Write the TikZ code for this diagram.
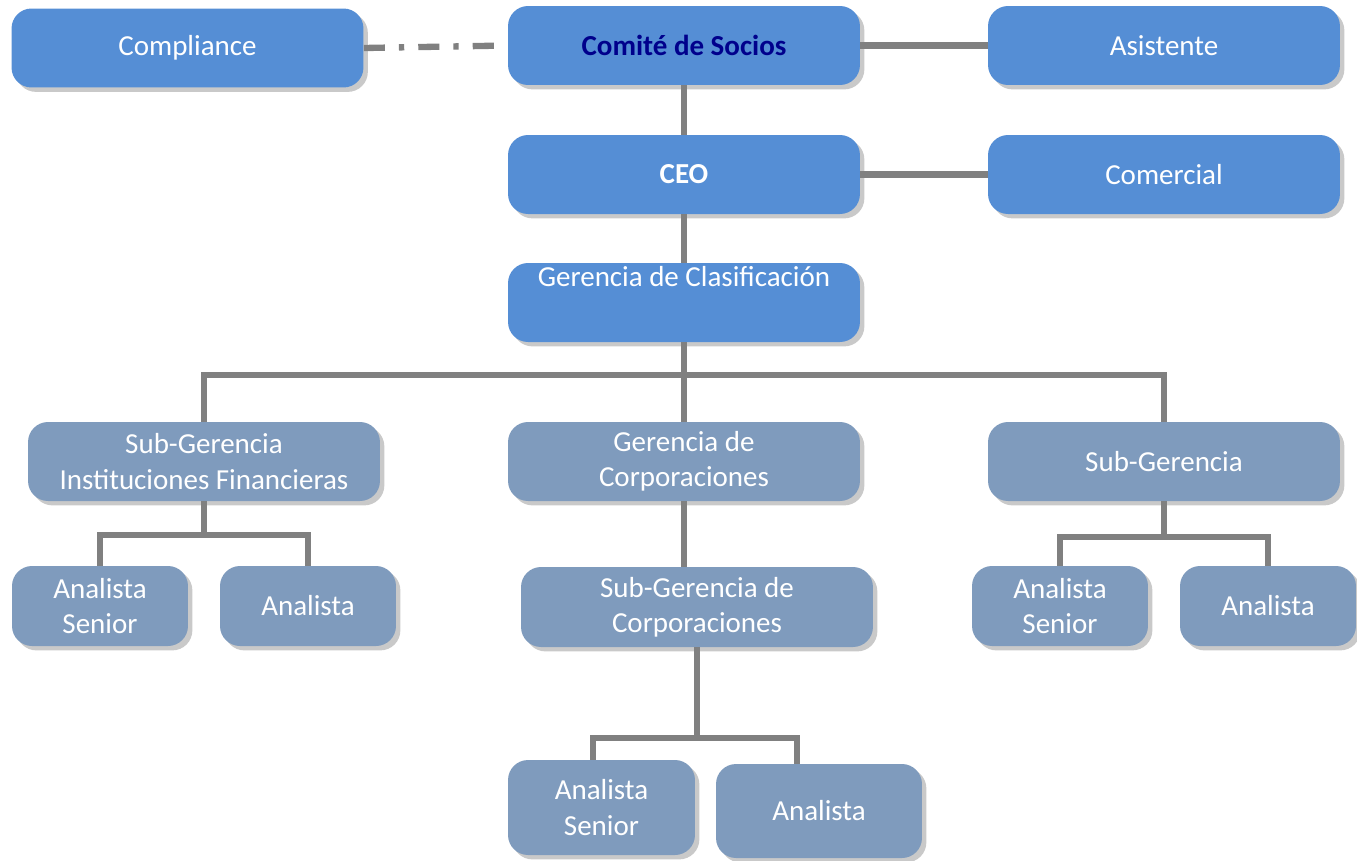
\documentclass[tikz,border=0pt]{standalone}
\usepackage{fontspec}
\setmainfont{Carlito}
\usepackage{tikz}
\usepackage{xcolor}
\usetikzlibrary{shapes,arrows,positioning,shadows}
\definecolor{boss}{RGB}{85, 142, 213}
\definecolor{staff}{RGB}{127, 155, 189}
\definecolor{linkgray}{RGB}{128, 128, 128}
\definecolor{navy}{RGB}{0, 0, 140}
\tikzstyle{unit} = [
    rectangle,
    rounded corners=4mm,
    minimum width=7.04cm,
    minimum height=1.58cm,
    text centered,
    align=center,
    draw=none,
    fill=boss,
    text=white,
    drop shadow={shadow xshift=2.5pt, shadow yshift=-2.5pt, opacity=.3, fill=black!70},
    font=\fontsize{16.5}{20}\selectfont
]
\tikzstyle{subunit} = [
    unit,
    fill=staff
]
\tikzstyle{analyst} = [
    subunit,
    minimum width=3.52cm,
    minimum height=1.6cm
]
\tikzstyle{link} = [
    line width=3.6pt,
    draw=linkgray
]

\begin{document}
\begin{tikzpicture}[x=0.02cm, y=-0.02cm]
    \useasboundingbox (0,0) rectangle (1357,860);

    % top levels
    \node[unit] (compliance) at (187.5,48) {Compliance};
    \node[unit, text=navy, font=\fontsize{16.5}{20}\selectfont\bfseries] (comite) at (684,45.5) {Comité de Socios};
    \node[unit] (asistente) at (1164,45.5) {Asistente};
    \node[unit, font=\fontsize{16.5}{20}\selectfont\bfseries] (ceo) at (684,174.5) {CEO};
    \node[unit] (comercial) at (1164,174.5) {Comercial};
    \node[unit, inner ysep=0pt] (gclas) at (684,302.5) {Gerencia de Clasificación\\[10pt]\mbox{}};

    % gerencias
    \node[subunit] (sgif) at (204,461.5) {Sub-Gerencia\\Instituciones Financieras};
    \node[subunit] (gcorp) at (684,461.5) {Gerencia de\\Corporaciones};
    \node[subunit] (sgder) at (1164,461.5) {Sub-Gerencia};
    \node[subunit, minimum height=1.6cm] (sgcorp) at (697,607) {Sub-Gerencia de\\Corporaciones};

    % analistas
    \node[analyst] (asL) at (100,606) {Analista\\Senior};
    \node[analyst] (anL) at (308,606) {Analista};
    \node[analyst] (asR) at (1060,606) {Analista\\Senior};
    \node[analyst] (anR) at (1268,606) {Analista};
    \node[analyst, minimum width=3.74cm, minimum height=1.9cm] (asB) at (601.5,807.5) {Analista\\Senior};
    \node[analyst, minimum width=4.12cm, minimum height=1.88cm] (anB) at (819,811) {Analista};

    % buses
    \coordinate (busA) at (684,375);
    \coordinate (busB) at (204,535);
    \coordinate (busC) at (1164,537);
    \coordinate (busD) at (697,738);

    % connectors
    \draw[link, dash pattern=on 12pt off 8pt on 3pt off 8pt] (compliance.east) -- (comite.west);
    \draw[link] (comite.east) -- (asistente.west);
    \draw[link] (comite.south) -- (ceo.north);
    \draw[link] (ceo.east) -- (comercial.west);
    \draw[link] (ceo.south) -- (gclas.north);
    \draw[link] (gclas.south) -- (busA);
    \draw[link] (sgif.north) |- (busA) -| (sgder.north);
    \draw[link] (busA) -- (gcorp.north);
    \draw[link] (gcorp.south) -- (gcorp.south |- sgcorp.north);
    \draw[link] (sgif.south) -- (busB);
    \draw[link] (asL.north) |- (busB) -| (anL.north);
    \draw[link] (sgder.south) -- (busC);
    \draw[link] (asR.north) |- (busC) -| (anR.north);
    \draw[link] (sgcorp.south) -- (busD);
    \draw[link] ([xshift=-0.17cm]asB.north) |- (busD) -| ([xshift=-0.44cm]anB.north);
\end{tikzpicture}
\end{document}
